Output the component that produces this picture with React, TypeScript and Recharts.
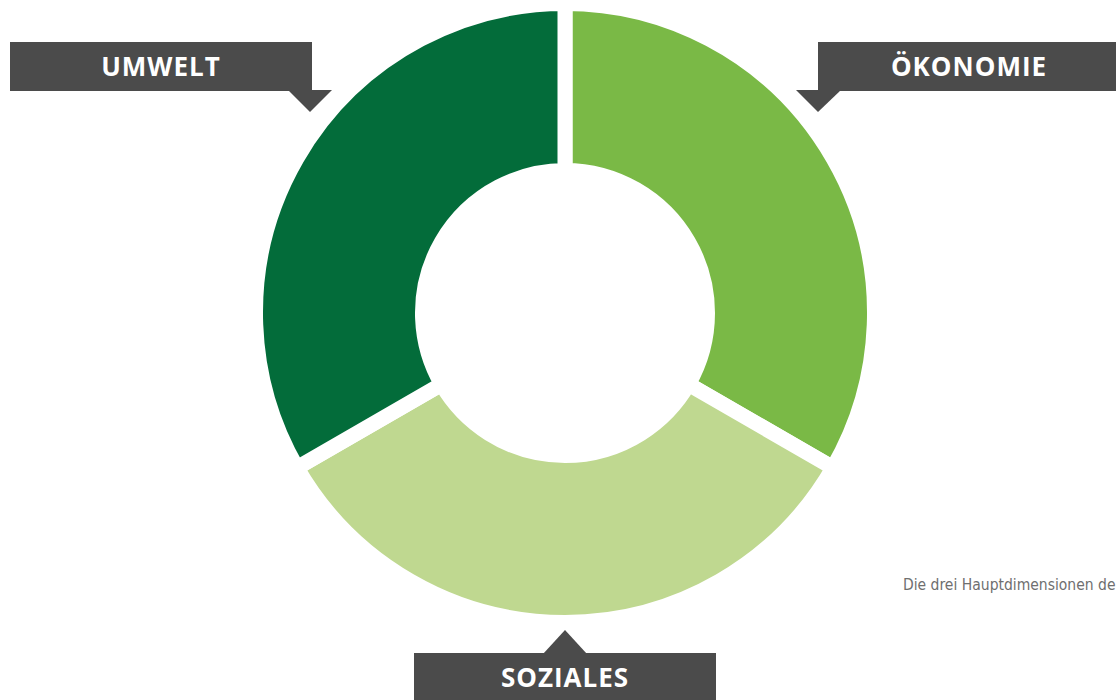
import React from "react";
import { PieChart, Pie, Cell } from "recharts";

const dimensions = ["ÖKONOMIE", "SOZIALES", "UMWELT"];
const shares = [1, 1, 1];
const colors = ["#7ab946", "#bfd890", "#036c3a"];

const data = dimensions.map((name, i) => ({ name, value: shares[i] }));

const GAP = 15;
const BOX = "#4b4b4b";

function Callouts() {
  const textStyle: React.CSSProperties = {
    fontFamily: "'Open Sans', sans-serif",
    fontWeight: 700,
    fontSize: 26,
    letterSpacing: 1,
    fill: "#ffffff",
  };
  return (
    <svg
      width={1116}
      height={700}
      style={{ position: "absolute", left: 0, top: 0, pointerEvents: "none" }}
    >
      {/* UMWELT */}
      <rect x={10} y={42} width={302} height={49} fill={BOX} />
      <polygon points="288,90 332,90 310,112" fill={BOX} />
      <text x={161} y={76} textAnchor="middle" style={textStyle}>
        UMWELT
      </text>
      {/* ÖKONOMIE */}
      <rect x={818} y={42} width={300} height={49} fill={BOX} />
      <polygon points="796,90 841,90 818,112" fill={BOX} />
      <text x={969} y={76} textAnchor="middle" style={textStyle}>
        ÖKONOMIE
      </text>
      {/* SOZIALES */}
      <rect x={414} y={653} width={302} height={50} fill={BOX} />
      <polygon points="543,654 587,654 565,630" fill={BOX} />
      <text x={565} y={687} textAnchor="middle" style={textStyle}>
        SOZIALES
      </text>
      <text
        x={903}
        y={590}
        style={{
          fontFamily: "'DejaVu Sans Condensed', 'DejaVu Sans', sans-serif",
          fontSize: 15.5,
          fill: "#6f6f6f",
        }}
      >
        Die drei Hauptdimensionen de
      </text>
    </svg>
  );
}

export default function App() {
  return (
    <div
      style={{
        position: "absolute",
        left: 0,
        top: 0,
        width: 1116,
        height: 700,
        overflow: "hidden",
        background: "#ffffff",
      }}
    >
      <PieChart width={1116} height={700} margin={{ top: 0, right: 0, bottom: 0, left: 0 }}>
        <Pie
          data={data}
          dataKey="value"
          nameKey="name"
          cx={565}
          cy={313}
          startAngle={90}
          endAngle={-270}
          outerRadius={302 + GAP / 2}
          innerRadius={150 - GAP / 2}
          stroke="#ffffff"
          strokeWidth={GAP}
          isAnimationActive={false}
        >
          {data.map((d, i) => (
            <Cell key={d.name} fill={colors[i]} />
          ))}
        </Pie>
      </PieChart>
      <Callouts />
    </div>
  );
}
